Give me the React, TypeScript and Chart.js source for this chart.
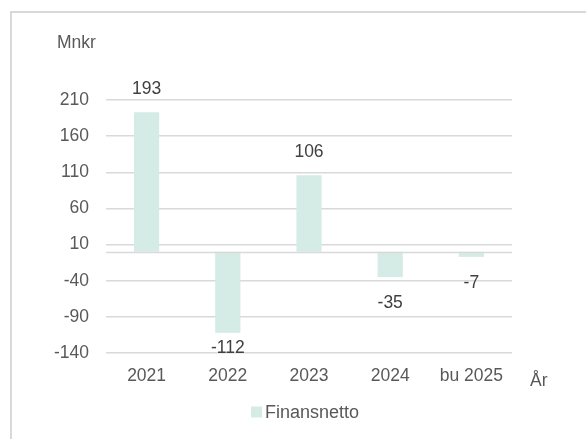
import React, { useEffect, useRef } from "react";
import { Chart, registerables } from "chart.js";

Chart.register(...registerables);

const categories = ["2021", "2022", "2023", "2024", "bu 2025"];
const finansnetto = [193, -112, 106, -35, -7];
const seriesName = "Finansnetto";
const yMin = -140;
const yMax = 210;
const yStep = 50;
const yTitle = "Mnkr";
const xTitle = "År";

const FONT = "'Liberation Sans', Arial, sans-serif";
const TEXT = "#595959";
const GRID = "#d9d9d9";
const BAR = "#d5ebe6";
const FS = 17.5;

export default function App() {
  const ref = useRef<HTMLCanvasElement | null>(null);

  useEffect(() => {
    document.body.style.margin = "0";
    const canvas = ref.current!;
    const overlay = {
      id: "overlay",
      beforeDraw(chart: any) {
        const ctx = chart.ctx;
        ctx.save();
        ctx.fillStyle = "#ffffff";
        ctx.fillRect(0, 0, chart.width, chart.height);
        ctx.strokeStyle = GRID;
        ctx.lineWidth = 2;
        ctx.beginPath();
        ctx.moveTo(11, chart.height + 5);
        ctx.lineTo(11, 12);
        ctx.lineTo(chart.width + 5, 12);
        ctx.stroke();
        ctx.restore();
      },
      afterDatasetsDraw(chart: any) {
        const ctx = chart.ctx;
        const area = chart.chartArea;
        const y = chart.scales.y;
        ctx.save();
        // zero line
        const y0 = Math.round(y.getPixelForValue(0)) + 0.5;
        ctx.strokeStyle = GRID;
        ctx.lineWidth = 1.5;
        ctx.beginPath();
        ctx.moveTo(area.left, y0);
        ctx.lineTo(area.right, y0);
        ctx.stroke();
        // data labels
        ctx.font = `${FS}px ${FONT}`;
        ctx.fillStyle = "#404040";
        ctx.textAlign = "center";
        ctx.textBaseline = "middle";
        const meta = chart.getDatasetMeta(0);
        meta.data.forEach((el: any, i: number) => {
          const v = finansnetto[i];
          let ty: number;
          if (v >= 0) ty = el.y - 23;
          else ty = Math.min(el.y + 26, area.bottom - 5);
          ctx.fillText(String(v), el.x, ty);
        });
        // axis titles
        ctx.fillStyle = TEXT;
        ctx.textAlign = "left";
        ctx.fillText(yTitle, 57, 43);
        ctx.fillText(xTitle, 530, 381);
        // legend
        const lx = 251;
        const ly = 412;
        ctx.fillStyle = BAR;
        ctx.fillRect(lx, ly - 5.5, 11, 11);
        ctx.fillStyle = TEXT;
        ctx.font = `18px ${FONT}`;
        ctx.fillText(seriesName, lx + 14, ly + 1);
        ctx.restore();
      },
    };

    const chart = new Chart(canvas, {
      type: "bar",
      data: {
        labels: categories,
        datasets: [
          {
            label: seriesName,
            data: finansnetto,
            backgroundColor: BAR,
            borderWidth: 0,
            categoryPercentage: 1,
            barPercentage: 0.31,
          },
        ],
      },
      options: {
        responsive: false,
        animation: false,
        devicePixelRatio: 1,
        layout: { padding: { left: 0, right: 74, top: 100, bottom: 46 } },
        plugins: {
          legend: { display: false },
          tooltip: { enabled: false },
          title: { display: false },
        },
        scales: {
          x: {
            grid: { display: false, drawTicks: false },
            border: { display: false },
            ticks: {
              color: TEXT,
              font: { family: FONT, size: FS },
              padding: 13,
              maxRotation: 0,
              autoSkip: false,
            },
            afterFit(scale: any) {
              scale.height = 40;
            },
          },
          y: {
            min: yMin,
            max: yMax,
            grid: { color: GRID, lineWidth: 1.5, drawTicks: false },
            border: { display: false },
            ticks: {
              stepSize: yStep,
              color: TEXT,
              font: { family: FONT, size: FS },
              padding: 17,
            },
            afterFit(scale: any) {
              scale.width = 106;
            },
          },
        },
      },
      plugins: [overlay],
    });
    return () => chart.destroy();
  }, []);

  return (
    <div style={{ width: 586, height: 439, position: "relative" }}>
      <canvas ref={ref} width={586} height={439} style={{ display: "block" }} />
    </div>
  );
}
